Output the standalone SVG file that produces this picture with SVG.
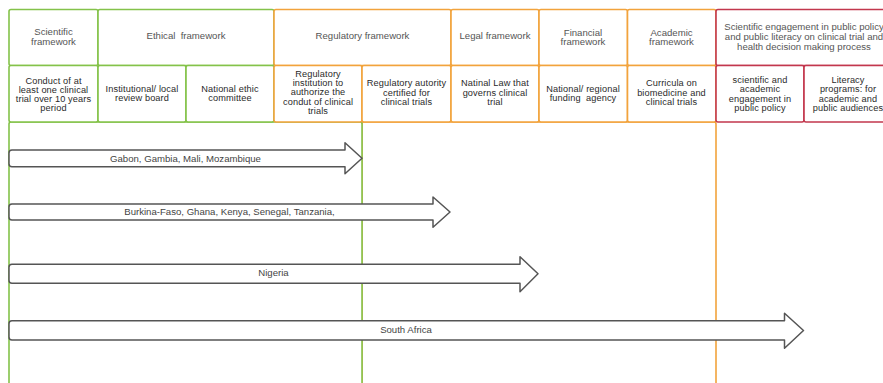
<svg xmlns="http://www.w3.org/2000/svg" width="883" height="383" viewBox="0 0 883 383">
<style>
text{font-family:"Liberation Sans",Arial,sans-serif;font-size:9.6px;text-anchor:middle}
.h{fill:#555}
.s{fill:#2a2a2a;font-size:9.2px;letter-spacing:0.12px}
.a{fill:#444;font-size:9.6px}
.g{fill:#fff;stroke:#84c24a;stroke-width:1.6}
.o{fill:#fff;stroke:#f2a33c;stroke-width:1.6}
.r{fill:#fff;stroke:#c2374d;stroke-width:1.6}
.ar{fill:#fff;stroke:#555;stroke-width:1.5;stroke-linejoin:round}
</style>
<rect width="883" height="383" fill="#fff"/>
<g id="body">
<rect class="o" x="362" y="122" width="354" height="270" rx="2"/>
<rect class="g" x="9" y="122" width="353" height="270" rx="2"/>
</g>
<g id="hdr-scientific"><rect class="g" x="9" y="9.5" width="89" height="56" rx="2"/>
<text class="h" x="53.5" y="35.3">Scientific</text><text class="h" x="53.5" y="45">framework</text></g>
<g id="hdr-ethical"><rect class="g" x="98" y="9.5" width="176" height="56" rx="2"/>
<text class="h" x="186" y="39.4" xml:space="preserve">Ethical  framework</text></g>
<g id="hdr-regulatory"><rect class="o" x="274" y="9.5" width="177" height="56" rx="2"/>
<text class="h" x="362.5" y="39.4">Regulatory framework</text></g>
<g id="hdr-legal"><rect class="o" x="451" y="9.5" width="88" height="56" rx="2"/>
<text class="h" x="495" y="39.4">Legal framework</text></g>
<g id="hdr-financial"><rect class="o" x="539" y="9.5" width="88.5" height="56" rx="2"/>
<text class="h" x="583" y="35.6">Financial</text><text class="h" x="583" y="45">framework</text></g>
<g id="hdr-academic"><rect class="o" x="627.5" y="9.5" width="88.5" height="56" rx="2"/>
<text class="h" x="671.5" y="35.6">Academic</text><text class="h" x="671.5" y="45">framework</text></g>
<g id="hdr-engagement"><rect class="r" x="716" y="9.5" width="176" height="56" rx="2"/>
<text class="h" x="804" y="30">Scientific engagement in public policy</text>
<text class="h" x="804" y="40">and public literacy on clinical trial and</text>
<text class="h" x="804" y="50">health decision making process</text></g>

<g id="cell-conduct"><rect class="g" x="9" y="65.5" width="89" height="56.5" rx="2"/>
<text class="s" x="53.5" y="83.5">Conduct of at</text><text class="s" x="53.5" y="92.8">least one clinical</text><text class="s" x="53.5" y="102.1">trial over 10 years</text><text class="s" x="53.5" y="111.4">period</text></g>
<g id="cell-irb"><rect class="g" x="98" y="65.5" width="88" height="56.5" rx="2"/>
<text class="s" x="142" y="91.6">Institutional/ local</text><text class="s" x="142" y="100.9">review board</text></g>
<g id="cell-nec"><rect class="g" x="186" y="65.5" width="88" height="56.5" rx="2"/>
<text class="s" x="230" y="91.6">National ethic</text><text class="s" x="230" y="100.9">committee</text></g>
<g id="cell-reginst"><rect class="o" x="274" y="65.5" width="88" height="56.5" rx="2"/>
<text class="s" x="318" y="76.7">Regulatory</text><text class="s" x="318" y="86">institution to</text><text class="s" x="318" y="95.3">authorize the</text><text class="s" x="318" y="104.6">condut of clinical</text><text class="s" x="318" y="113.9">trials</text></g>
<g id="cell-regauth"><rect class="o" x="362" y="65.5" width="89" height="56.5" rx="2"/>
<text class="s" x="406.5" y="86.2">Regulatory autority</text><text class="s" x="406.5" y="95.5">certified for</text><text class="s" x="406.5" y="104.8">clinical trials</text></g>
<g id="cell-law"><rect class="o" x="451" y="65.5" width="88" height="56.5" rx="2"/>
<text class="s" x="495" y="86.2">Natinal Law that</text><text class="s" x="495" y="95.5">governs clinical</text><text class="s" x="495" y="104.8">trial</text></g>
<g id="cell-funding"><rect class="o" x="539" y="65.5" width="88.5" height="56.5" rx="2"/>
<text class="s" x="583" y="91.6" xml:space="preserve">National/ regional</text><text class="s" x="583" y="100.9" xml:space="preserve">funding  agency</text></g>
<g id="cell-curricula"><rect class="o" x="627.5" y="65.5" width="88.5" height="56.5" rx="2"/>
<text class="s" x="671.5" y="86.2">Curricula on</text><text class="s" x="671.5" y="95.5">biomedicine and</text><text class="s" x="671.5" y="104.8">clinical trials</text></g>
<g id="cell-policy"><rect class="r" x="716" y="65.5" width="88" height="56.5" rx="2"/>
<text class="s" x="760" y="83.1">scientific and</text><text class="s" x="760" y="92.4">academic</text><text class="s" x="760" y="101.7">engagement in</text><text class="s" x="760" y="111">public policy</text></g>
<g id="cell-literacy"><rect class="r" x="804" y="65.5" width="88" height="56.5" rx="2"/>
<text class="s" x="848" y="83.1">Literacy</text><text class="s" x="848" y="92.4">programs: for</text><text class="s" x="848" y="101.7">academic and</text><text class="s" x="848" y="111">public audiences</text></g>

<g id="connectors">
<g id="arrow-1"><path class="ar" d="M12,150 L345,150 L345,142.7 L362,158.3 L345,173.8 L345,166.7 L12,166.7 Q9,166.7 9,163.7 L9,153 Q9,150 12,150 Z"/>
<text class="a" x="185.5" y="161.6">Gabon, Gambia, Mali, Mozambique</text></g>
<g id="arrow-2"><path class="ar" d="M12,204 L433,204 L433,197 L450,212 L433,227.2 L433,220 L12,220 Q9,220 9,217 L9,207 Q9,204 12,204 Z"/>
<text class="a" x="229.5" y="215.3">Burkina-Faso, Ghana, Kenya, Senegal, Tanzania,</text></g>
<g id="arrow-3"><path class="ar" d="M12,264.3 L520,264.3 L520,256.7 L538,273.7 L520,291.7 L520,283.3 L12,283.3 Q9,283.3 9,280.3 L9,267.3 Q9,264.3 12,264.3 Z"/>
<text class="a" x="273.5" y="276.3">Nigeria</text></g>
<g id="arrow-4"><path class="ar" d="M12,320.7 L784.5,320.7 L784.5,313.3 L803.5,330.5 L784.5,348.3 L784.5,340 L12,340 Q9,340 9,337 L9,323.7 Q9,320.7 12,320.7 Z"/>
<text class="a" x="406" y="333.3">South Africa</text></g>
</g>
</svg>
